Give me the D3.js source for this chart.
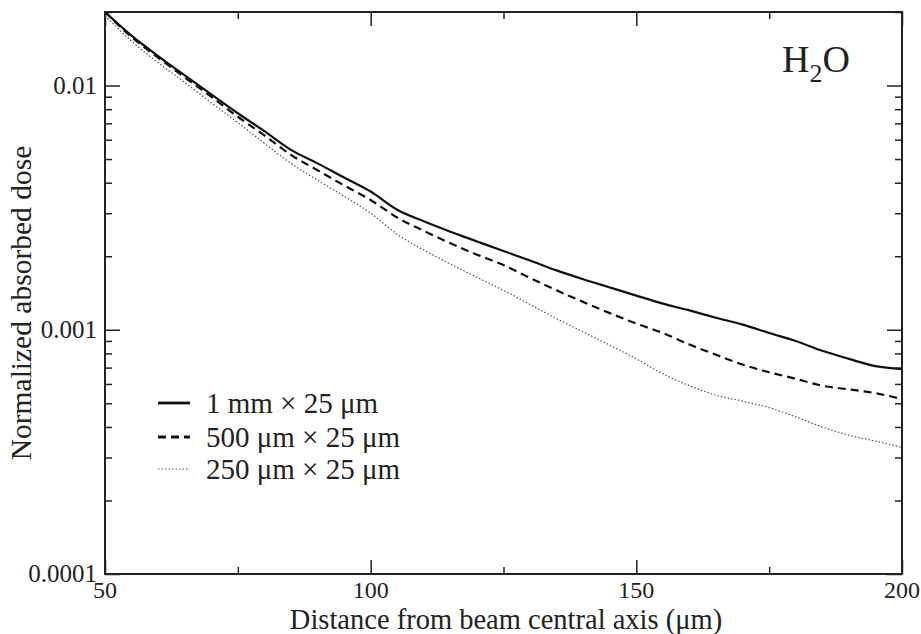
<!DOCTYPE html>
<html><head><meta charset="utf-8">
<script src="https://cdn.jsdelivr.net/npm/d3@7"></script>
<style>body{margin:0;background:#fff}svg{display:block}</style>
</head><body><svg id="c" width="921" height="634" font-family="'Liberation Serif', 'DejaVu Serif', serif"></svg>
<script>
const distance = [50, 55, 60, 65, 70, 75, 80, 85, 90, 95, 100, 105, 110, 115, 120, 125, 130, 135, 140, 145, 150, 155, 160, 165, 170, 175, 180, 185, 190, 195, 200];
const dose1mm   = [0.0200,0.0160,0.0132,0.0110,0.0092,0.00770,0.00650,0.00545,0.00480,0.00420,0.00368,0.00310,0.00278,0.00252,0.00230,0.00210,0.00192,0.00175,0.00161,0.00149,0.00138,0.00128,0.00120,0.00112,0.00105,0.00097,0.00090,0.00082,0.00076,0.00071,0.00069];
const dose500um = [0.0200,0.0158,0.0130,0.0108,0.0090,0.00745,0.00625,0.00520,0.00450,0.00390,0.00340,0.00288,0.00254,0.00226,0.00203,0.00184,0.00163,0.00145,0.00130,0.00117,0.00106,0.00097,0.00087,0.00079,0.00072,0.00067,0.00063,0.00059,0.00057,0.00055,0.00052];
const dose250um = [0.0193,0.0152,0.0124,0.0103,0.0085,0.00705,0.00580,0.00480,0.00410,0.00352,0.00300,0.00246,0.00212,0.00186,0.00164,0.00145,0.00127,0.00111,0.00098,0.000865,0.00076,0.00066,0.00059,0.00054,0.00051,0.00048,0.00044,0.00040,0.00037,0.00035,0.00033];
const seriesNames = ["1 mm \u00d7 25 \u03bcm", "500 \u03bcm \u00d7 25 \u03bcm", "250 \u03bcm \u00d7 25 \u03bcm"];
const xTicks = [50, 100, 150, 200];
const xMinor = [75, 125, 175];
const yTicks = [0.0001, 0.001, 0.01];
const yTickLabels = ["0.0001", "0.001", "0.01"];

const svg = d3.select("#c");
const L = 105, R = 902, T = 12, B = 574;
const x = d3.scaleLinear().domain([50, 200]).range([L, R]);
const y = d3.scaleLog().domain([0.0001, 0.02]).range([B, T]);

const yMinor = [];
[0.0001, 0.001, 0.01].forEach(d => { for (let k = 2; k <= 9; k++) { const v = d * k; if (v <= 0.02 + 1e-9) yMinor.push(v); } });

const g = svg.append("g").attr("fill", "#222");
const col = "#222";
function ax(axis, tr) { const a = g.append("g").attr("transform", tr).call(axis); a.select(".domain").remove(); a.selectAll("line").attr("stroke", col).attr("stroke-width", 1.5); return a; }
ax(d3.axisBottom(x).tickValues(xTicks).tickSize(-14).tickFormat(""), `translate(0,${B})`);
ax(d3.axisBottom(x).tickValues(xMinor).tickSize(-7).tickFormat(""), `translate(0,${B})`);
ax(d3.axisTop(x).tickValues(xTicks).tickSize(-14).tickFormat(""), `translate(0,${T})`);
ax(d3.axisTop(x).tickValues(xMinor).tickSize(-7).tickFormat(""), `translate(0,${T})`);
ax(d3.axisLeft(y).tickValues(yTicks).tickSize(-15).tickFormat(""), `translate(${L},0)`);
ax(d3.axisLeft(y).tickValues(yMinor).tickSize(-7).tickFormat(""), `translate(${L},0)`);
ax(d3.axisRight(y).tickValues(yTicks).tickSize(-15).tickFormat(""), `translate(${R},0)`);
ax(d3.axisRight(y).tickValues(yMinor).tickSize(-7).tickFormat(""), `translate(${R},0)`);

g.append("rect").attr("x", L).attr("y", T).attr("width", R - L).attr("height", B - T)
  .attr("fill", "none").attr("stroke", col).attr("stroke-width", 2);

g.selectAll(".xl").data(xTicks).join("text").attr("x", d => x(d)).attr("y", 598)
  .attr("text-anchor", "middle").attr("font-size", 24).text(d => d);
g.selectAll(".yl").data(yTicks).join("text").attr("x", 97).attr("y", d => y(d) + 8)
  .attr("text-anchor", "end").attr("font-size", 25).text((d, i) => yTickLabels[i]);

g.append("text").attr("x", 506).attr("y", 629).attr("text-anchor", "middle").attr("font-size", 28.5)
  .text("Distance from beam central axis (\u03bcm)");
g.append("text").attr("transform", "translate(31,303) rotate(-90)").attr("text-anchor", "middle").attr("font-size", 29.5)
  .text("Normalized absorbed dose");

const h = g.append("text").attr("x", 782).attr("y", 72).attr("font-size", 38);
h.append("tspan").text("H");
h.append("tspan").attr("font-size", 26).attr("dy", 10).text("2");
h.append("tspan").attr("dy", -10).text("O");

const styles = [
  {w: 2.2, dash: null, c: "#111"},
  {w: 2.2, dash: "8,5", c: "#111"},
  {w: 1.2, dash: "1.5,2", c: "#555"}
];
const data = [dose1mm, dose500um, dose250um];
const line = d3.line().x(d => x(d[0])).y(d => y(d[1])).curve(d3.curveMonotoneX);
svg.append("clipPath").attr("id", "cp").append("rect").attr("x", L).attr("y", T).attr("width", R - L).attr("height", B - T);
data.forEach((s, i) => {
  g.append("path").attr("clip-path", "url(#cp)").datum(distance.map((d, j) => [d, s[j]])).attr("d", line)
    .attr("fill", "none").attr("stroke", styles[i].c).attr("stroke-width", styles[i].w)
    .attr("stroke-dasharray", styles[i].dash);
});

const ly = [403, 437, 469];
seriesNames.forEach((n, i) => {
  g.append("line").attr("x1", 158).attr("x2", 190).attr("y1", ly[i]).attr("y2", ly[i])
    .attr("stroke", styles[i].c).attr("stroke-width", styles[i].w + (i < 2 ? 0.6 : 0)).attr("stroke-dasharray", styles[i].dash);
  g.append("text").attr("x", 206).attr("y", ly[i] + 10).attr("font-size", 29).text(n);
});
</script></body></html>
